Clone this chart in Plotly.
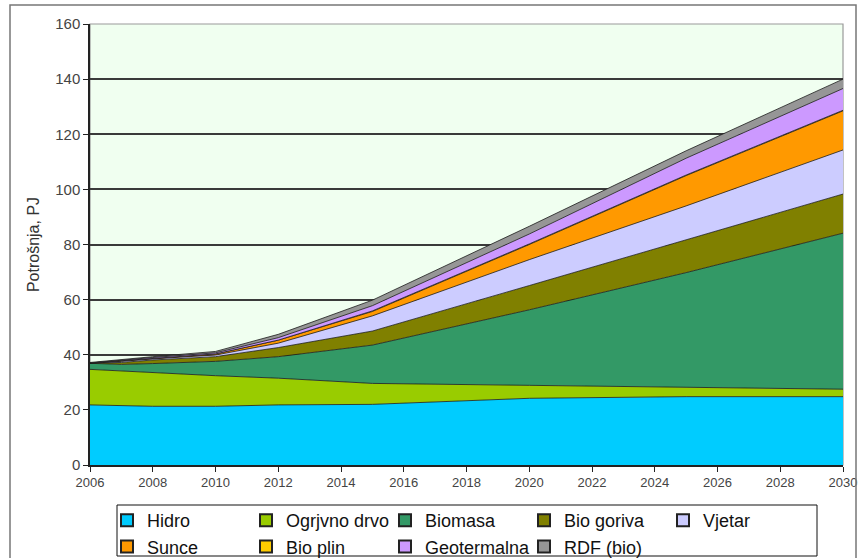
import plotly.graph_objects as go

years = [2006, 2007, 2008, 2010, 2012, 2015, 2020, 2025, 2030]

hidro = [21.8, 21.5, 21.3, 21.3, 21.8, 22.0, 24.2, 24.8, 24.8]
ogrjevno = [12.9, 12.6, 12.2, 11.1, 9.7, 7.6, 4.7, 3.4, 2.7]
biomasa = [2.2, 2.4, 3.3, 5.2, 7.8, 13.9, 27.4, 41.6, 56.6]
bio_goriva = [0.1, 0.7, 1.3, 1.7, 3.3, 5.1, 8.8, 11.9, 14.2]
vjetar = [0.0, 0.4, 0.4, 0.6, 1.6, 5.5, 9.4, 12.3, 16.0]
sunce = [0.0, 0.2, 0.2, 0.4, 1.1, 1.6, 5.5, 11.0, 14.2]
bio_plin = [0.0, 0.0, 0.0, 0.0, 0.0, 0.2, 0.2, 0.2, 0.2]
geotermalna = [0.0, 0.2, 0.3, 0.4, 0.9, 1.9, 3.6, 6.1, 7.9]
rdf = [0.2, 0.3, 0.3, 0.5, 1.2, 2.0, 2.8, 2.7, 3.4]

series_names = ["Hidro", "Ogrjvno drvo", "Biomasa", "Bio goriva", "Vjetar",
                "Sunce", "Bio plin", "Geotermalna", "RDF (bio)"]
series_values = [hidro, ogrjevno, biomasa, bio_goriva, vjetar,
                 sunce, bio_plin, geotermalna, rdf]
series_colors = ["#00CCFF", "#99CC00", "#339966", "#808000", "#CCCCFF",
                 "#FF9900", "#FFCC00", "#CC99FF", "#969696"]

y_ticks = [0, 20, 40, 60, 80, 100, 120, 140, 160]
x_ticks = list(range(2006, 2031, 2))

fig = go.Figure()

for name, vals, col in zip(series_names, series_values, series_colors):
    fig.add_trace(go.Scatter(
        x=years, y=vals, name=name, mode="lines",
        stackgroup="one", fillcolor=col,
        line=dict(color="#1a1a1a", width=0.8),
        legendgroup=name, showlegend=False,
    ))

for name, col in zip(series_names, series_colors):
    fig.add_trace(go.Scatter(
        x=[None], y=[None], name=name, mode="markers",
        marker=dict(symbol="square", size=12, color=col,
                    line=dict(color="#222", width=1)),
        legendgroup=name, showlegend=True,
    ))

L, R, T, B = 90, 15, 24, 93
W, H = 858, 558
pw, ph = W - L - R, H - T - B

def px_x(p):
    return (p - L) / pw

def px_y(p):
    return (H - B - p) / ph

fig.update_layout(
    width=W, height=H,
    margin=dict(l=L, r=R, t=T, b=B, autoexpand=False),
    paper_bgcolor="white",
    plot_bgcolor="#F0FFF0",
    font=dict(family="Liberation Sans, Arial, sans-serif", color="#222"),
    showlegend=True,
    legend=dict(
        orientation="h", x=px_x(107), y=px_y(502), xanchor="left", yanchor="top",
        entrywidth=94, entrywidthmode="pixels",
        font=dict(size=18, color="#111"),
        bgcolor="rgba(0,0,0,0)", borderwidth=0,
        tracegroupgap=0, itemsizing="constant",
    ),
    xaxis=dict(
        range=[2006, 2030], tickvals=x_ticks, ticktext=[str(v) for v in x_ticks],
        ticks="outside", ticklen=5, tickcolor="#222", tickwidth=1,
        showline=True, linecolor="#222", linewidth=1.5,
        showgrid=False, zeroline=False,
        tickfont=dict(size=13, color="#444"),
    ),
    yaxis=dict(
        range=[0, 160], tickvals=y_ticks,
        ticks="outside", ticklen=5, tickcolor="#222", tickwidth=1,
        showline=True, linecolor="#222", linewidth=1.5,
        showgrid=True, gridcolor="#3a3a3a", gridwidth=1.5, zeroline=False,
        tickfont=dict(size=15, color="#444"),
        title=dict(text="Potrošnja, PJ", font=dict(size=16, color="#333"), standoff=12),
    ),
    shapes=[
        dict(type="rect", xref="paper", yref="paper", x0=0, y0=0, x1=1, y1=1,
             line=dict(color="#9a9a9a", width=1.2), layer="below"),
        dict(type="rect", xref="paper", yref="paper",
             x0=px_x(10), x1=px_x(856), y0=px_y(565), y1=px_y(5),
             line=dict(color="#777", width=1.5), layer="above"),
        dict(type="rect", xref="paper", yref="paper",
             x0=px_x(117), x1=px_x(817), y0=px_y(556), y1=px_y(505),
             line=dict(color="#111", width=1), layer="above"),
    ],
)

fig.write_html("out.html")
